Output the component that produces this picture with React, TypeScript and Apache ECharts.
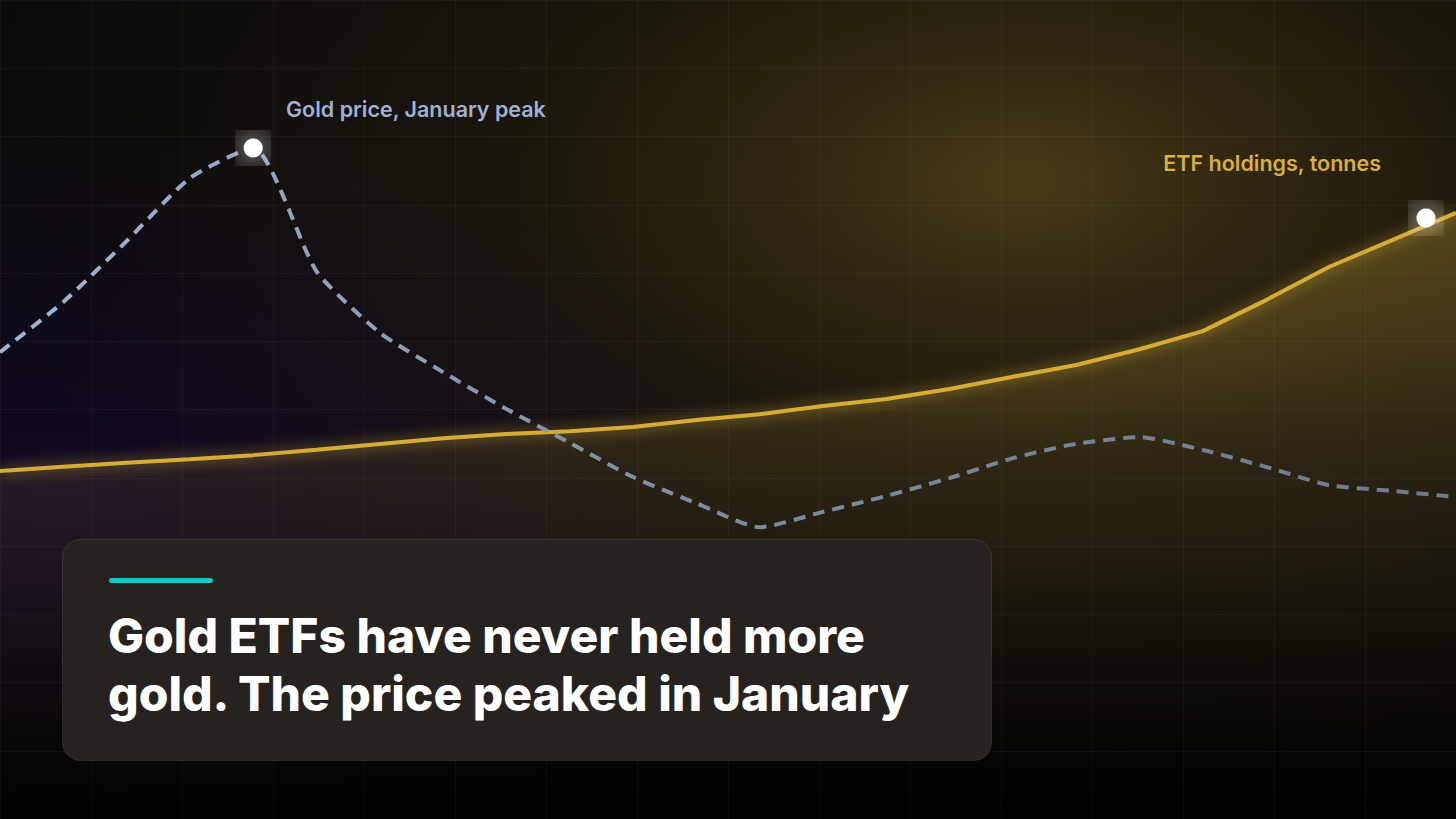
import React, { useEffect, useRef } from "react";
import * as echarts from "echarts";

// Weekly observations
const weeks = [
  "Jan 1", "Jan 8", "Jan 15", "Jan 22", "Jan 29", "Feb 5", "Feb 12", "Feb 19",
  "Feb 26", "Mar 5", "Mar 12", "Mar 19", "Mar 26", "Apr 2", "Apr 9", "Apr 16",
  "Apr 23", "Apr 30", "May 7", "May 14", "May 21", "May 28", "Jun 4", "Jun 11",
];

// Gold price, US$ per ounce
const goldPrice = [
  4912, 5010, 5129, 5252, 5311, 5070, 4950, 4873,
  4801, 4735, 4668, 4617, 4570, 4600, 4631, 4666,
  4705, 4733, 4746, 4721, 4688, 4652, 4641, 4629,
];

// Gold ETF holdings, tonnes
const etfTonnes = [
  3595, 3602, 3609, 3615, 3622, 3631, 3641, 3651,
  3658, 3663, 3670, 3682, 3692, 3706, 3718, 3735,
  3756, 3776, 3803, 3834, 3887, 3944, 3990, 4036,
];

const peakIndex = 4;
const lastIndex = etfTonnes.length - 1;

const priceLabel = "Gold price, January peak";
const etfLabel = "ETF holdings, tonnes";
const titleLines = ["Gold ETFs have never held more", "gold. The price peaked in January"];

const W = 1456;
const H = 819;

export default function App() {
  const ref = useRef<HTMLDivElement>(null);

  useEffect(() => {
    document.body.style.margin = "0";
    document.body.style.background = "#000";
    const chart = echarts.init(ref.current!, null, { renderer: "svg", width: W, height: H });

    const haloStyle = {
      color: new echarts.graphic.RadialGradient(0.5, 0.5, 0.7, [
        { offset: 0, color: "rgba(255,255,255,0.45)" },
        { offset: 0.45, color: "rgba(255,255,255,0.2)" },
        { offset: 1, color: "rgba(255,255,255,0.06)" },
      ]),
    };
    const dotStyle = { color: "#ffffff" };

    const markerData = (coord: any[]) => [
      { coord, symbol: "rect", symbolSize: 36, itemStyle: haloStyle },
      { coord, symbol: "circle", symbolSize: 19, itemStyle: dotStyle },
    ];

    chart.setOption({
      animation: false,
      backgroundColor: "#0b0a0b",
      grid: { left: 0, right: 0, top: 0, bottom: 0 },
      xAxis: [
        { type: "category", data: weeks, boundaryGap: false, show: false },
        {
          type: "value", min: 0, max: 16, interval: 1,
          axisLine: { show: false }, axisTick: { show: false }, axisLabel: { show: false },
          splitLine: { show: true, lineStyle: { color: "rgba(255,255,255,0.04)", width: 1 } },
        },
      ],
      yAxis: [
        { type: "value", min: 4000, max: 5600, show: false },
        { type: "value", min: 3000, max: 4400, show: false },
        {
          type: "value", min: 0, max: 12, interval: 1,
          axisLine: { show: false }, axisTick: { show: false }, axisLabel: { show: false },
          splitLine: { show: true, lineStyle: { color: "rgba(255,255,255,0.04)", width: 1 } },
        },
      ],
      graphic: [
        {
          type: "group",
          z: -10,
          children: [
            {
              type: "rect",
              shape: { x: 0, y: 0, width: W, height: H },
              style: {
                fill: new echarts.graphic.LinearGradient(0, 0, 0, 1, [
                  { offset: 0, color: "#0b0a0a" },
                  { offset: 0.6, color: "#0b0a0d" },
                  { offset: 1, color: "#020203" },
                ]),
              },
            },
            {
              type: "rect",
              shape: { x: 0, y: 0, width: W, height: H },
              style: {
                fill: new echarts.graphic.RadialGradient(0.7, 0.22, 0.72, [
                  { offset: 0, color: "rgba(120,98,30,0.55)" },
                  { offset: 0.45, color: "rgba(90,72,22,0.22)" },
                  { offset: 1, color: "rgba(60,50,20,0)" },
                ]),
              },
            },
            {
              type: "rect",
              shape: { x: 0, y: 0, width: W, height: H },
              style: {
                fill: new echarts.graphic.RadialGradient(0.04, 0.62, 0.48, [
                  { offset: 0, color: "rgba(28,10,68,0.42)" },
                  { offset: 0.6, color: "rgba(28,10,68,0.16)" },
                  { offset: 1, color: "rgba(28,10,68,0)" },
                ]),
              },
            },
            {
              type: "rect",
              shape: { x: 0, y: 0, width: W, height: H },
              style: {
                fill: new echarts.graphic.LinearGradient(0, 0, 0, 1, [
                  { offset: 0, color: "rgba(0,0,0,0)" },
                  { offset: 0.7, color: "rgba(0,0,0,0)" },
                  { offset: 1, color: "rgba(0,0,0,0.7)" },
                ]),
              },
            },
          ],
        },
        {
          type: "text",
          z: 50,
          style: {
            text: priceLabel, x: 286, y: 109, verticalAlign: "middle",
            fill: "#9fb2d6", font: "600 21.5px Inter",
          },
        },
        {
          type: "text",
          z: 50,
          style: {
            text: etfLabel, x: 1381, y: 163, align: "right", verticalAlign: "middle",
            fill: "#d8b03e", font: "600 21.5px Inter",
          },
        },
        {
          type: "rect",
          z: 60,
          shape: { x: 62.5, y: 539.5, width: 929, height: 221, r: 18 },
          style: { fill: "#25221f", stroke: "rgba(255,255,255,0.10)", lineWidth: 1 },
        },
        {
          type: "rect",
          z: 61,
          shape: { x: 109, y: 578, width: 104, height: 5, r: 2.5 },
          style: { fill: "#1bc3cc" },
        },
        {
          type: "text",
          z: 61,
          style: {
            text: titleLines[0], x: 108, y: 635, verticalAlign: "middle",
            fill: "#ffffff", font: "800 48px Inter",
          },
        },
        {
          type: "text",
          z: 61,
          style: {
            text: titleLines[1], x: 108, y: 693, verticalAlign: "middle",
            fill: "#ffffff", font: "800 48px Inter",
          },
        },
      ],
      series: [
        {
          name: "ETF holdings",
          type: "line",
          xAxisIndex: 0,
          yAxisIndex: 1,
          data: etfTonnes,
          symbol: "none",
          z: 3,
          lineStyle: {
            color: "#d6ac36",
            width: 4,
            shadowColor: "rgba(235,190,60,0.7)",
            shadowBlur: 14,
          },
          areaStyle: {
            color: new echarts.graphic.LinearGradient(0, 0, 0, 1, [
              { offset: 0, color: "rgba(215,175,55,0.42)" },
              { offset: 0.45, color: "rgba(200,160,50,0.14)" },
              { offset: 1, color: "rgba(200,160,50,0)" },
            ]),
          },
          markPoint: {
            symbolOffset: [-30, 5],
            label: { show: false },
            data: markerData([weeks[lastIndex], etfTonnes[lastIndex]]),
          },
        },
        {
          name: "Gold price",
          type: "line",
          xAxisIndex: 0,
          yAxisIndex: 0,
          data: goldPrice,
          symbol: "none",
          smooth: 0.2,
          z: 4,
          lineStyle: {
            width: 4,
            type: [12, 8],
            color: new echarts.graphic.LinearGradient(0, 0, 1, 0, [
              { offset: 0, color: "#a2b5d4" },
              { offset: 0.45, color: "#808da3" },
              { offset: 1, color: "#707888" },
            ]),
          },
          markPoint: {
            label: { show: false },
            data: markerData([weeks[peakIndex], goldPrice[peakIndex]]),
          },
        },
      ],
    });

    return () => chart.dispose();
  }, []);

  return <div ref={ref} style={{ width: W, height: H }} />;
}
